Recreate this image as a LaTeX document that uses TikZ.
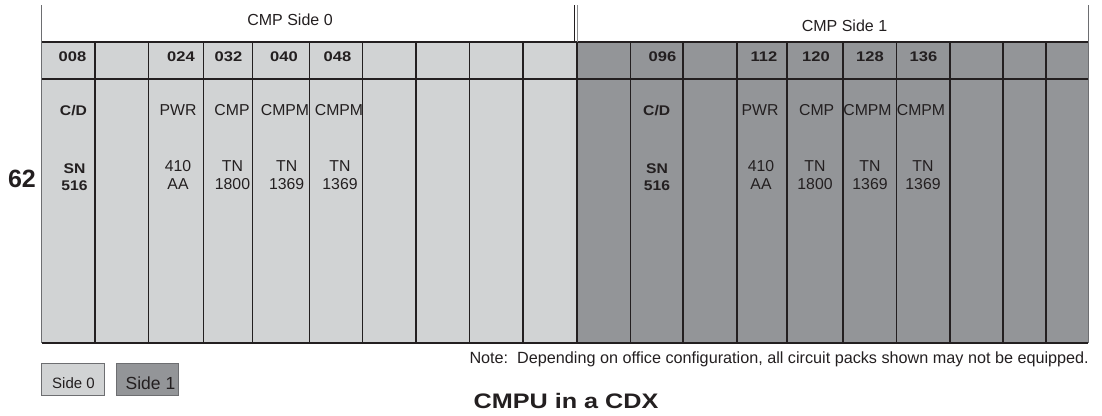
\documentclass[tikz,border=0pt]{standalone}
\usepackage{fontspec}
\usepackage{graphicx}
\setmainfont{Liberation Sans}
\definecolor{sidezero}{HTML}{D1D3D4}
\definecolor{sideone}{HTML}{939598}
\definecolor{ink}{HTML}{231F20}
\definecolor{rim}{HTML}{6D6E71}
% bold face of the shelf is set wide
\newcommand{\widebf}[2][1.18]{\scalebox{#1}[1]{\bfseries #2}}

\begin{document}
\begin{tikzpicture}[x=1pt,y=-1pt,
  lbl/.style={anchor=base,inner sep=0pt,text=ink,font=\fontsize{15.8}{17.5}\selectfont},
  num/.style={anchor=base,inner sep=0pt,text=ink,font=\fontsize{14}{17}\selectfont},
  head/.style={anchor=base,inner sep=0pt,text=ink,font=\fontsize{16}{18}\selectfont},
  slotline/.style={draw=ink,line width=1.1pt},
  rimline/.style={draw=rim,line width=0.9pt},
  legend/.style={draw=rim,line width=0.8pt,minimum width=63pt,minimum height=32.5pt,inner sep=0pt,anchor=north west}]

\useasboundingbox (0,0) rectangle (1102,415);

% shelf body, side 0 and side 1
\fill[sidezero] (41.7,42) rectangle (577,343);
\fill[sideone] (577,42) rectangle (1088,343);

% slot separators
\foreach \x in {95,148.3,203.7,252.7,309.3,362.7,416,469.3,523,
                630.5,683,737,787,843,896.5,950,1003,1046}
  \draw[slotline] (\x,42) -- (\x,343);
\draw[draw=ink,line width=1.8pt] (576.8,42) -- (576.8,343);

% rows
\draw[slotline] (41.7,42) -- (1088,42);
\draw[slotline] (41.7,79) -- (1088,79);
\draw[slotline] (41.7,343) -- (1088,343);

% outer edges and side markers above the shelf
\draw[rimline] (41.7,5) -- (41.7,343);
\draw[rimline] (1088,5) -- (1088,343);
\draw[draw=ink,line width=0.9pt] (574.6,5) -- (574.6,42);
\draw[draw=rim!80,line width=1.2pt] (577.6,5) -- (577.6,42);

\node[head] (cmp0) at (290,25) {CMP Side 0};
\node[head] (cmp1) at (844.5,31.7) {CMP Side 1};

\node[anchor=base,inner sep=0pt,text=ink,font=\fontsize{25}{28}\selectfont\bfseries] (shelf) at (22,187) {62};

% slot numbers, side 0
\node[num] (n008) at (72.5,61.7) {\widebf{008}};
\node[num] (n024) at (181,61.7) {\widebf{024}};
\node[num] (n032) at (228.5,61.7) {\widebf{032}};
\node[num] (n040) at (284,61.7) {\widebf{040}};
\node[num] (n048) at (337.5,61.7) {\widebf{048}};
% slot numbers, side 1
\node[num] (n096) at (662.5,61.7) {\widebf{096}};
\node[num] (n112) at (764,61.7) {\widebf{112}};
\node[num] (n120) at (816,61.7) {\widebf{120}};
\node[num] (n128) at (870,61.7) {\widebf{128}};
\node[num] (n136) at (923.5,61.7) {\widebf{136}};

% pack names, side 0
\node[num] (cd0) at (73.5,115.7) {\widebf[1.12]{C/D}};
\node[lbl] (pwr0) at (178,115.7) {PWR};
\node[lbl] (cmpa0) at (232,115.7) {CMP};
\node[lbl] (cmpm0a) at (285,115.7) {CMPM};
\node[lbl] (cmpm0b) at (339,115.7) {CMPM};
% pack names, side 1
\node[num] (cd1) at (656.7,115.7) {\widebf[1.12]{C/D}};
\node[lbl] (pwr1) at (760,115.7) {PWR};
\node[lbl] (cmpa1) at (816.7,115.7) {CMP};
\node[lbl] (cmpm1a) at (867.5,115.7) {CMPM};
\node[lbl] (cmpm1b) at (921,115.7) {CMPM};

% pack codes, side 0
\node[num] (sn0a) at (74.5,173) {\widebf[1.12]{SN}};
\node[num] (sn0b) at (74.5,190) {\widebf[1.12]{516}};
\node[lbl] (pc0a) at (178,171.7) {410};
\node[lbl] (pc0b) at (178,189) {AA};
\node[lbl] (tn0a) at (232.5,171.7) {TN};
\node[lbl] (tn0b) at (232.5,189) {1800};
\node[lbl] (tm0a) at (286.7,171.7) {TN};
\node[lbl] (tm0b) at (286.7,189) {1369};
\node[lbl] (tk0a) at (340,171.7) {TN};
\node[lbl] (tk0b) at (340,189) {1369};
% pack codes, side 1
\node[num] (sn1a) at (657,173) {\widebf[1.12]{SN}};
\node[num] (sn1b) at (657,190) {\widebf[1.12]{516}};
\node[lbl] (pc1a) at (761,171.7) {410};
\node[lbl] (pc1b) at (761,189) {AA};
\node[lbl] (tn1a) at (815,171.7) {TN};
\node[lbl] (tn1b) at (815,189) {1800};
\node[lbl] (tm1a) at (870,171.7) {TN};
\node[lbl] (tm1b) at (870,189) {1369};
\node[lbl] (tk1a) at (923,171.7) {TN};
\node[lbl] (tk1b) at (923,189) {1369};

% note and legend
\node[anchor=base east,inner sep=0pt,text=ink,font=\fontsize{16.2}{18}\selectfont] (note) at (1089,363.5)
  {Note:\ \ Depending on office configuration, all circuit packs shown may not be equipped.};

\node[legend,fill=sidezero] (key0) at (41.2,362.8) {};
\node[anchor=base,inner sep=0pt,text=ink,font=\fontsize{15}{17}\selectfont] (key0t) at (73.5,388) {Side 0};
\node[legend,fill=sideone,minimum width=62pt] (key1) at (116,362.8) {};
\node[anchor=base,inner sep=0pt,text=ink,font=\fontsize{17.5}{20}\selectfont] (key1t) at (150.5,389) {Side 1};

% caption
\node[anchor=base,inner sep=0pt,text=ink,font=\fontsize{21}{24}\selectfont] (title) at (566,408) {\widebf[1.2]{CMPU in a CDX}};
\end{tikzpicture}
\end{document}
